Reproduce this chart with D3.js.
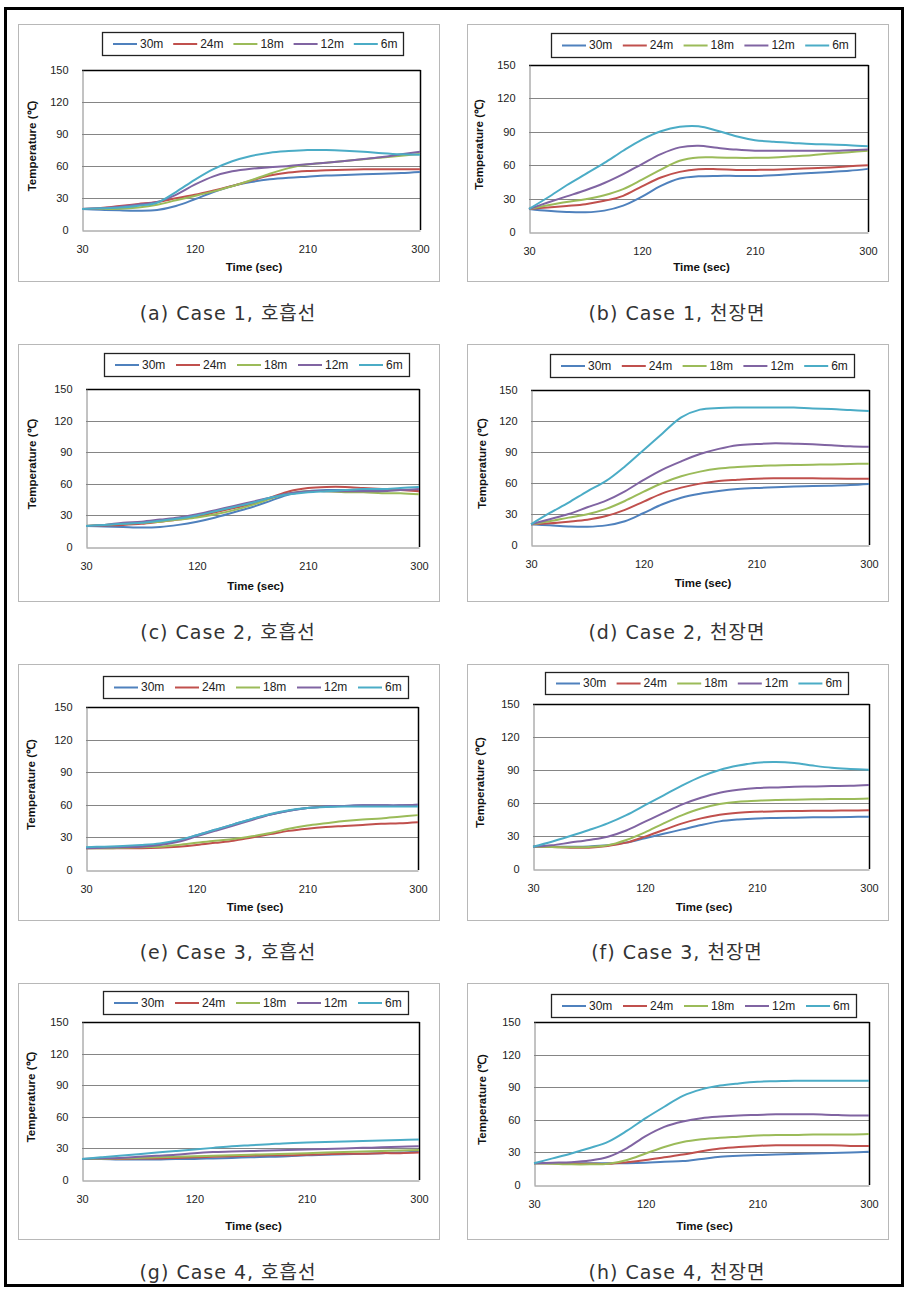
<!DOCTYPE html>
<html><head><meta charset="utf-8">
<script src="https://cdn.jsdelivr.net/npm/d3@7"></script>
<style>body{margin:0;background:#fff}</style>
</head><body><svg id="c" width="908" height="1291"></svg>
<script>
// ---- data ----
const timeSec = [30,45,60,75,90,105,120,135,150,165,180,195,210,225,240,255,270,285,300];
const seriesNames = ["30m","24m","18m","12m","6m"];
const xTicks = [30,120,210,300];
const yTicks = [0,30,60,90,120,150];
const xTitle = "Time (sec)";
const yTitle = "Temperature (℃)";
const captions = ["(a) Case 1, 호흡선","(b) Case 1, 천장면","(c) Case 2, 호흡선","(d) Case 2, 천장면",
                  "(e) Case 3, 호흡선","(f) Case 3, 천장면","(g) Case 4, 호흡선","(h) Case 4, 천장면"];

const panelA = [
  [19.7,19,18.4,18.1,18.75,22.5,28.8,35.6,41.3,45,47.5,49,50,51,51.6,52.2,52.8,53.4,54.4],
  [19.7,20.6,22.5,24.4,26.3,29.7,33,37,41.3,46.3,51,53.8,55.3,56,56.6,57,57,57,57],
  [19.7,19.7,20,21.2,23.7,27.8,31.9,36.2,41,46.6,52.8,58,61.3,63,64.7,66.3,68,69.7,71.3],
  [19.7,20.3,21.9,23.8,26.3,33,42.5,50.3,55,57.5,58.8,60,61.6,63,64.7,66.6,68.4,71,73.4],
  [19.7,20.3,21,22.8,25.6,35.6,47,57,64.4,69.4,72.5,74,75,75,74.4,73.4,72,71,70.6]
];
const panelB = [
  [20.7,19,18,17.7,19.2,23.7,31.8,41.4,48,50,50.4,50.4,50.4,51,52,53,54,55,56.7],
  [20.7,22,23.4,25,28,32.5,41,49,54,56.4,56.4,55.8,55.8,56,56.5,57.3,58,59,60],
  [20.7,24,27,29.4,33,38.5,47,56,64,67,67,66.6,66.6,67,68,69,70.5,71.7,73],
  [20.7,26.5,32,37.5,44,52,61,70,76,77.4,75.6,74,73,73,73,73,73,73.5,74],
  [20.7,31,42,52,62,73,83,90.5,94.5,95,91,86,82.5,81,80,79,78.6,78,77]
];
const panelC = [
  [20,19.5,19,18.5,19,21,24,28,33,38,44,50,53,54,54,54,54,54,54],
  [20,20.5,21,22,24,26,29,33,37,41,47,53,56,57,57,56,55,54,53],
  [20,21,22,23,24,26,28,31,35,40,46,51,53,53,52,52,51,51,50],
  [20,21,23,24,26,28,31,35,39,43,47,51,53,53,53,53,53,54,55],
  [20,21,22,23,25,27,30,34,38,42,47,50,52,53,54,55,55,56,57]
];
const panelD = [
  [20,19,18,17.7,19,23,31,39.4,45.8,49.7,52.3,54.2,55.2,55.8,56.5,57,57.4,58,59],
  [20,21,22.6,24.5,28,34,42,50,55.5,59.4,62,63.2,64.2,64.5,64.5,64.5,64.3,64.2,64],
  [20,23,26.5,29.7,35,42.6,51.6,60,66.5,71,74,75.5,76.5,77,77.4,77.7,78,78.4,78.7],
  [20,25,30,36.5,43,52,63,73,81,88,93,96.5,97.7,98.4,98,97.4,96.5,95.5,95],
  [20,31,41,52,62,76,92,108,123.5,131,132.6,133,133,133,133,132,131.6,130.6,129.7]
];
const panelE = [
  [20.5,21,21.5,22,23.5,27,32,37,42,47,51,54.5,57,58.5,59,59.5,59.5,59.5,60],
  [20,20,20,20,20.5,21.5,23,25,27,30,33,36,38,39.5,40.5,41.5,42.5,43,44],
  [20,20,20.5,21,21.5,23,25,27,28.5,31,34,38,41,43,45,46.5,47.5,49,50.5],
  [20,20.5,21,21.5,23,26,31,36,41,46,51,54.5,57,58.5,59,59.5,59.5,59.5,60],
  [21,21.5,22,23,24.5,27.5,32,37,42,47,51.5,55,57,58,58.5,58.5,58.5,58.5,58.5]
];
const panelF = [
  [20.3,20.3,20.3,20.5,21.5,24,28,32,36,40,43.3,45,46,46.4,46.7,47,47.1,47.3,47.6],
  [20.3,20,19.4,19.4,21,24,29.4,35.5,41.5,46,49.4,51.2,52,52.4,52.7,52.9,53,53.2,53.3],
  [20.3,20,19.7,20,21.5,26.4,33.3,41.5,49,55,59,61.2,62,62.7,63,63.3,63.6,63.6,64],
  [20.3,21.5,24,26.4,29.4,35,43,51,58.8,64.8,69.4,72,73.6,74.2,74.8,75,75.4,75.7,76.4],
  [20.3,24.8,30,35.5,41.5,49,58,67,76,84,90,94,96.7,97.3,96.4,94,92,91,90.3]
];
const panelG = [
  [20,20,19.5,19.5,19.5,20,20,20.5,21,21.5,22,22.5,23.5,24,24.5,25,25.5,26,27],
  [20,20,20,20.5,20.5,21,21.5,22,22.5,23,23.5,23.5,24,24.5,25,25,25.5,25.5,26],
  [20,20,20.5,21,21.5,22,22.5,23,23.5,24,24.5,25,25.5,26,26.5,27,27.5,28,28.5],
  [20,20.5,21,22,23,24,25.5,26.5,27,27.5,28,28.5,29,29.5,30,30.5,31,31.5,32],
  [20,21.5,23,24.5,26,27.5,29,30.5,32,33,34,35,35.5,36,36.5,37,37.5,38,38.5]
];
const panelH = [
  [20,20,20,20,20,20,20.5,21.5,22,24,26,27,27.5,28,28.5,29,29.5,30,30.5],
  [20,20,19.5,19.5,19.5,21,23,25.5,28,31,33.5,35,36,36.5,36.5,36.5,36.5,36,36],
  [20,19.5,19,19,19.5,23,29,35,39.5,42,43.5,44.5,45.5,46,46,46.5,46.5,46.5,47],
  [20,20.5,21,22.5,26,34,45,53.5,58.5,61.5,63,64,64.5,65,65,65,64.5,64,64],
  [20,24.5,29,34,40,50,61.5,72,82,88,91.5,93.5,95,95.5,96,96,96,96,96]
];
const panelData = [panelA,panelB,panelC,panelD,panelE,panelF,panelG,panelH];

// ---- layout ----
const colors = ["#4F81BD","#C0504D","#9BBB59","#8064A2","#4BACC6"];
const layout = [
  {box:[18,24,439,281],  plot:[82,70,420,230],    leg:[102,32,403,55],   cap:[228,313],  xt:267,  yt:32},
  {box:[467,24,888,281], plot:[529,65,868,232],   leg:[551,33,855,57],   cap:[677,313],  xt:267,  yt:479},
  {box:[18,344,439,601], plot:[86,389,419,547],   leg:[104,353,409,376], cap:[228,632],  xt:586,  yt:32},
  {box:[467,344,888,601],plot:[531,390,869,545],  leg:[550,354,854,377], cap:[677,632],  xt:583,  yt:482},
  {box:[18,664,439,920], plot:[86,707,418,870],   leg:[103,676,408,698], cap:[228,952],  xt:907,  yt:31},
  {box:[467,664,888,920],plot:[533,704,869,869],  leg:[545,672,848,694], cap:[677,952],  xt:907,  yt:480},
  {box:[18,983,439,1239],plot:[82,1022,419,1180], leg:[103,991,408,1014],cap:[228,1272], xt:1226, yt:31},
  {box:[467,983,888,1239],plot:[534,1022,869,1185],leg:[551,994,856,1017],cap:[677,1272],xt:1226, yt:482}
];
const fontLat = "'Liberation Sans', Arial, sans-serif";

const svg = d3.select("#c");
svg.append("rect").attr("width",908).attr("height",1291).attr("fill","#fff");
svg.append("rect").attr("x",5.5).attr("y",8.5).attr("width",897).attr("height",1277)
  .attr("fill","none").attr("stroke","#000").attr("stroke-width",3);

layout.forEach((L, pi) => {
  const g = svg.append("g");
  const [bx0,by0,bx1,by1] = L.box;
  g.append("rect").attr("x",bx0+.5).attr("y",by0+.5).attr("width",bx1-bx0).attr("height",by1-by0)
    .attr("fill","#fff").attr("stroke","#b8b8b8").attr("stroke-width",1);
  const [px0,py0,px1,py1] = L.plot;
  const x = d3.scaleLinear().domain([30,300]).range([px0,px1]);
  const y = d3.scaleLinear().domain([0,150]).range([py1,py0]);

  // gridlines
  g.selectAll(".grid").data(yTicks.filter(v=>v>0 && v<150)).join("line")
    .attr("x1",px0).attr("x2",px1).attr("y1",d=>Math.round(y(d))+.5).attr("y2",d=>Math.round(y(d))+.5)
    .attr("stroke","#858585").attr("stroke-width",1);
  // plot border top & right
  g.append("line").attr("x1",px0).attr("x2",px1+.5).attr("y1",py0+.5).attr("y2",py0+.5).attr("stroke","#000").attr("stroke-width",1.5);
  g.append("line").attr("x1",px1+.5).attr("x2",px1+.5).attr("y1",py0).attr("y2",py1).attr("stroke","#000").attr("stroke-width",1.5);

  // axes
  const ay = g.append("g").attr("transform",`translate(${px0+.5},0)`)
    .call(d3.axisLeft(y).tickValues(yTicks).tickSize(0).tickSizeOuter(0).tickPadding(14));
  const ax = g.append("g").attr("transform",`translate(0,${py1+.5})`)
    .call(d3.axisBottom(x).tickValues(xTicks).tickSize(0).tickSizeOuter(0).tickPadding(15));
  [ax,ay].forEach(a=>{
    a.select(".domain").attr("stroke","#868686").attr("stroke-width",1);
    a.selectAll("text").attr("font-family",fontLat).attr("font-size",11).attr("fill","#222");
  });

  // series
  const line = d3.line().x((d,i)=>x(timeSec[i])).y(d=>y(d)).curve(d3.curveCatmullRom.alpha(0.5));
  panelData[pi].forEach((vals, si) => {
    g.append("path").attr("d",line(vals)).attr("fill","none")
      .attr("stroke",colors[si]).attr("stroke-width",2).attr("stroke-linejoin","round");
  });

  // legend
  const [lx0,ly0,lx1,ly1] = L.leg;
  g.append("rect").attr("x",lx0+.5).attr("y",ly0+.5).attr("width",lx1-lx0).attr("height",ly1-ly0)
    .attr("fill","#fff").attr("stroke","#222").attr("stroke-width",1.3);
  const step = (lx1-lx0)/5, ym = (ly0+ly1)/2;
  seriesNames.forEach((nm, si) => {
    const sx = lx0 + 11 + si*step;
    g.append("line").attr("x1",sx).attr("x2",sx+24).attr("y1",ym+.5).attr("y2",ym+.5)
      .attr("stroke",colors[si]).attr("stroke-width",2);
    g.append("text").attr("x",sx+27).attr("y",ym).attr("dy","0.36em")
      .attr("font-family",fontLat).attr("font-size",12).attr("fill","#222").text(nm);
  });

  // axis titles
  g.append("text").attr("x",(px0+px1)/2+3).attr("y",L.xt).attr("dy","0.35em").attr("text-anchor","middle")
    .attr("font-family",fontLat).attr("font-size",11.5).attr("font-weight","bold").attr("fill","#111").text(xTitle);
  g.append("text").attr("transform",`translate(${L.yt},${(py0+py1)/2-4}) rotate(-90)`).attr("dy","0.35em")
    .attr("text-anchor","middle").attr("font-family",fontLat).attr("font-size",11.5).attr("font-weight","bold")
    .attr("fill","#111").text(yTitle);

  // caption
  g.append("text").attr("x",L.cap[0]).attr("y",L.cap[1]).attr("dy","0.36em").attr("text-anchor","middle")
    .attr("font-family","'DejaVu Sans', 'Noto Sans CJK KR', sans-serif").attr("font-size",19)
    .attr("letter-spacing","1px").attr("fill","#333").text(captions[pi]);
});
</script></body></html>
